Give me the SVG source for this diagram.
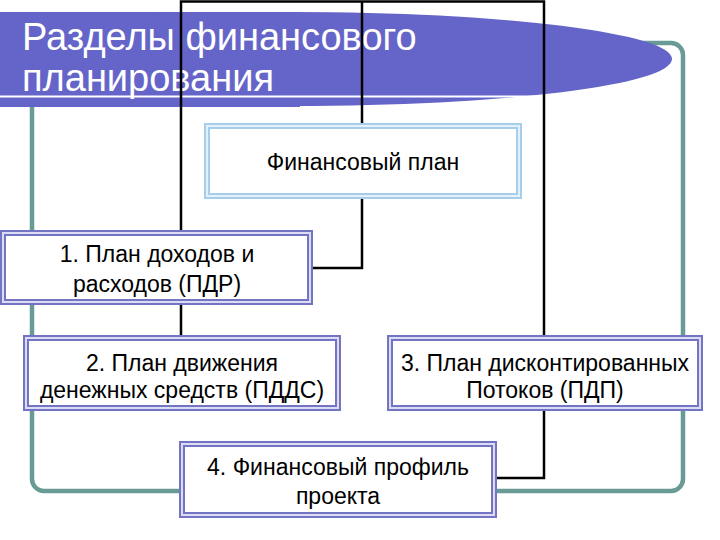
<svg xmlns="http://www.w3.org/2000/svg" width="720" height="540" viewBox="0 0 720 540">
<style>
.txt{font-family:"Liberation Sans",Arial,sans-serif;font-size:23px;fill:#000;text-anchor:middle}
.title{font-family:"Liberation Sans",Arial,sans-serif;font-size:38px;fill:#fff}
.conn{fill:none;stroke:#000;stroke-width:2.5}
.pbox-o{fill:#fff;stroke:#7474c4;stroke-width:6}
.pbox-i{fill:none;stroke:#dcdcf4;stroke-width:2}
.bbox-o{fill:#fff;stroke:#a6cdea;stroke-width:6}
.bbox-i{fill:none;stroke:#e4f1fa;stroke-width:2}
</style>
<rect width="720" height="540" fill="#fff"/>
<rect id="frame" x="32" y="43" width="651" height="448" rx="12" fill="none" stroke="#689a96" stroke-width="4.5"/>
<g id="banner">
<path d="M0,12 H300 V107 H0 Z" fill="#6565c9"/>
<ellipse cx="295" cy="59" rx="377" ry="47" fill="#6565c9"/>
<line x1="0" y1="96.5" x2="545" y2="96.5" stroke="#fff" stroke-width="2.2"/>
<text class="title" x="22" y="50">Разделы финансового</text>
<text class="title" x="22" y="91">планирования</text>
</g>
<g id="connectors">
<path class="conn" d="M181,337 V1.5 H544 V478 H497"/>
<path class="conn" d="M362,1.5 V268 H313"/>
</g>
<g id="fin-plan">
<rect class="bbox-o" x="207" y="126" width="312" height="70"/>
<rect class="bbox-i" x="207" y="126" width="312" height="70"/>
<text class="txt" x="363" y="170">Финансовый план</text>
</g>
<g id="pdr">
<rect class="pbox-o" x="3" y="233" width="307" height="69"/>
<rect class="pbox-i" x="3" y="233" width="307" height="69"/>
<text class="txt" x="157" y="262">1. План доходов и</text>
<text class="txt" x="157" y="292">расходов (ПДР)</text>
</g>
<g id="pdds">
<rect class="pbox-o" x="26" y="338" width="312" height="70"/>
<rect class="pbox-i" x="26" y="338" width="312" height="70"/>
<text class="txt" x="182" y="371">2. План движения</text>
<text class="txt" x="182" y="398">денежных средств (ПДДС)</text>
</g>
<g id="pdp">
<rect class="pbox-o" x="390" y="338" width="310" height="70"/>
<rect class="pbox-i" x="390" y="338" width="310" height="70"/>
<text class="txt" x="545" y="371">3. План дисконтированных</text>
<text class="txt" x="545" y="398">Потоков (ПДП)</text>
</g>
<g id="profile">
<rect class="pbox-o" x="182" y="444" width="312" height="71"/>
<rect class="pbox-i" x="182" y="444" width="312" height="71"/>
<text class="txt" x="338" y="475">4. Финансовый профиль</text>
<text class="txt" x="338" y="504">проекта</text>
</g>
</svg>
